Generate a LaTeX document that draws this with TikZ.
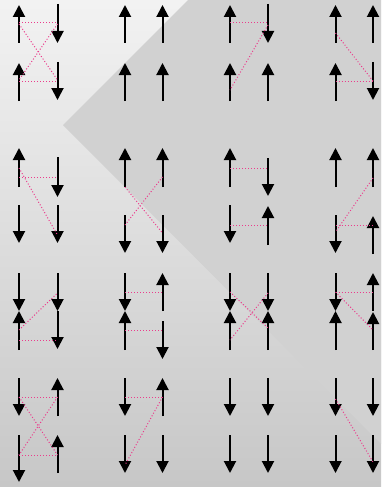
\documentclass[tikz,border=0pt]{standalone}
\usetikzlibrary{arrows.meta}
\begin{document}
\begin{tikzpicture}[x=1pt, y=-1pt,
    spin/.style={line width=2pt, -{Triangle[width=12pt,length=12pt]}},
    bond/.style={dotted, line width=1pt, color={rgb,255:red,235;green,60;blue,140}}]
    % hintergrund
    \shade [top color=black!5, bottom color=black!22] (0,0) rectangle (381,487);
    \fill [black!18] (188,0) -- (63,125) -- (381,444) -- (381,0) -- cycle;
    \useasboundingbox (0,0) rectangle (381,487);
    % reihe 1
    \foreach \x/\a/\b in {19/43/5, 57.5/4/43, 19/101/63, 57.5/62/100,
        125/43/5, 162.5/43/5, 125/101/63, 162.5/101/63,
        230/43/5, 268/4/43, 230/101/63, 268/101/63,
        335.5/43/5, 373/43/5, 335.5/101/63, 373/62/100}{
        \draw [spin] (\x,\a) -- (\x,\b);
    }
    \draw [bond] (19,23) -- (57.5,23);
    \draw [bond] (19,81) -- (57.5,81);
    \draw [bond] (19,24) -- (57.5,80);
    \draw [bond] (57.5,24) -- (19,80);
    \draw [bond] (230,23) -- (268,23);
    \draw [bond] (268,25) -- (230,90);
    \draw [bond] (335.5,33) -- (373,81);
    \draw [bond] (335.5,81) -- (373,81);
    % reihe 2
    \foreach \x/\a/\b in {19/187/148, 57.5/157/197, 19/205/243, 57.5/205/243,
        125/187/148, 162.5/187/148, 125/215/253, 162.5/215/253,
        230/187/148, 268/158/196, 230/205/243, 268/245/206,
        335.5/187/148, 373/187/148, 335.5/215/253, 373/254/216}{
        \draw [spin] (\x,\a) -- (\x,\b);
    }
    \draw [bond] (19,177) -- (57.5,177);
    \draw [bond] (19,168) -- (57.5,235);
    \draw [bond] (125,187) -- (162.5,233);
    \draw [bond] (162.5,177) -- (125,225);
    \draw [bond] (230,168) -- (268,168);
    \draw [bond] (230,225) -- (268,225);
    \draw [bond] (373,178) -- (335.5,232);
    \draw [bond] (335.5,225) -- (373,225);
    % reihe 3
    \foreach \x/\a/\b in {19/273/311, 19/350/311, 57.5/273/311, 57.5/311/349,
        125/273/311, 125/350/311, 162.5/311/273, 162.5/321/359,
        230/273/311, 230/350/311, 268/273/311, 268/350/311,
        335.5/273/311, 335.5/350/311, 373/311/273, 373/350/312}{
        \draw [spin] (\x,\a) -- (\x,\b);
    }
    \draw [bond] (19,340) -- (57.5,340);
    \draw [bond] (19,330) -- (57.5,293);
    \draw [bond] (125,292) -- (162.5,292);
    \draw [bond] (125,330) -- (162.5,330);
    \draw [bond] (230,292) -- (268,328);
    \draw [bond] (268,293) -- (230,340);
    \draw [bond] (335.5,292) -- (373,292);
    \draw [bond] (335.5,292) -- (373,330);
    % reihe 4
    \foreach \x/\a/\b in {19/378/416, 19/435/482, 57.5/416/378, 57.5/473/435,
        125/378/416, 125/435/473, 162.5/416/378, 162.5/435/473,
        230/378/416, 230/435/473, 268/378/416, 268/435/473,
        335.5/378/416, 335.5/435/473, 373/378/416, 373/435/473}{
        \draw [spin] (\x,\a) -- (\x,\b);
    }
    \draw [bond] (19,397) -- (57.5,397);
    \draw [bond] (19,455) -- (57.5,455);
    \draw [bond] (19,397) -- (57.5,455);
    \draw [bond] (57.5,397) -- (19,455);
    \draw [bond] (125,397) -- (162.5,397);
    \draw [bond] (162.5,397) -- (125,465);
    \draw [bond] (335.5,399) -- (373,462);
\end{tikzpicture}
\end{document}
